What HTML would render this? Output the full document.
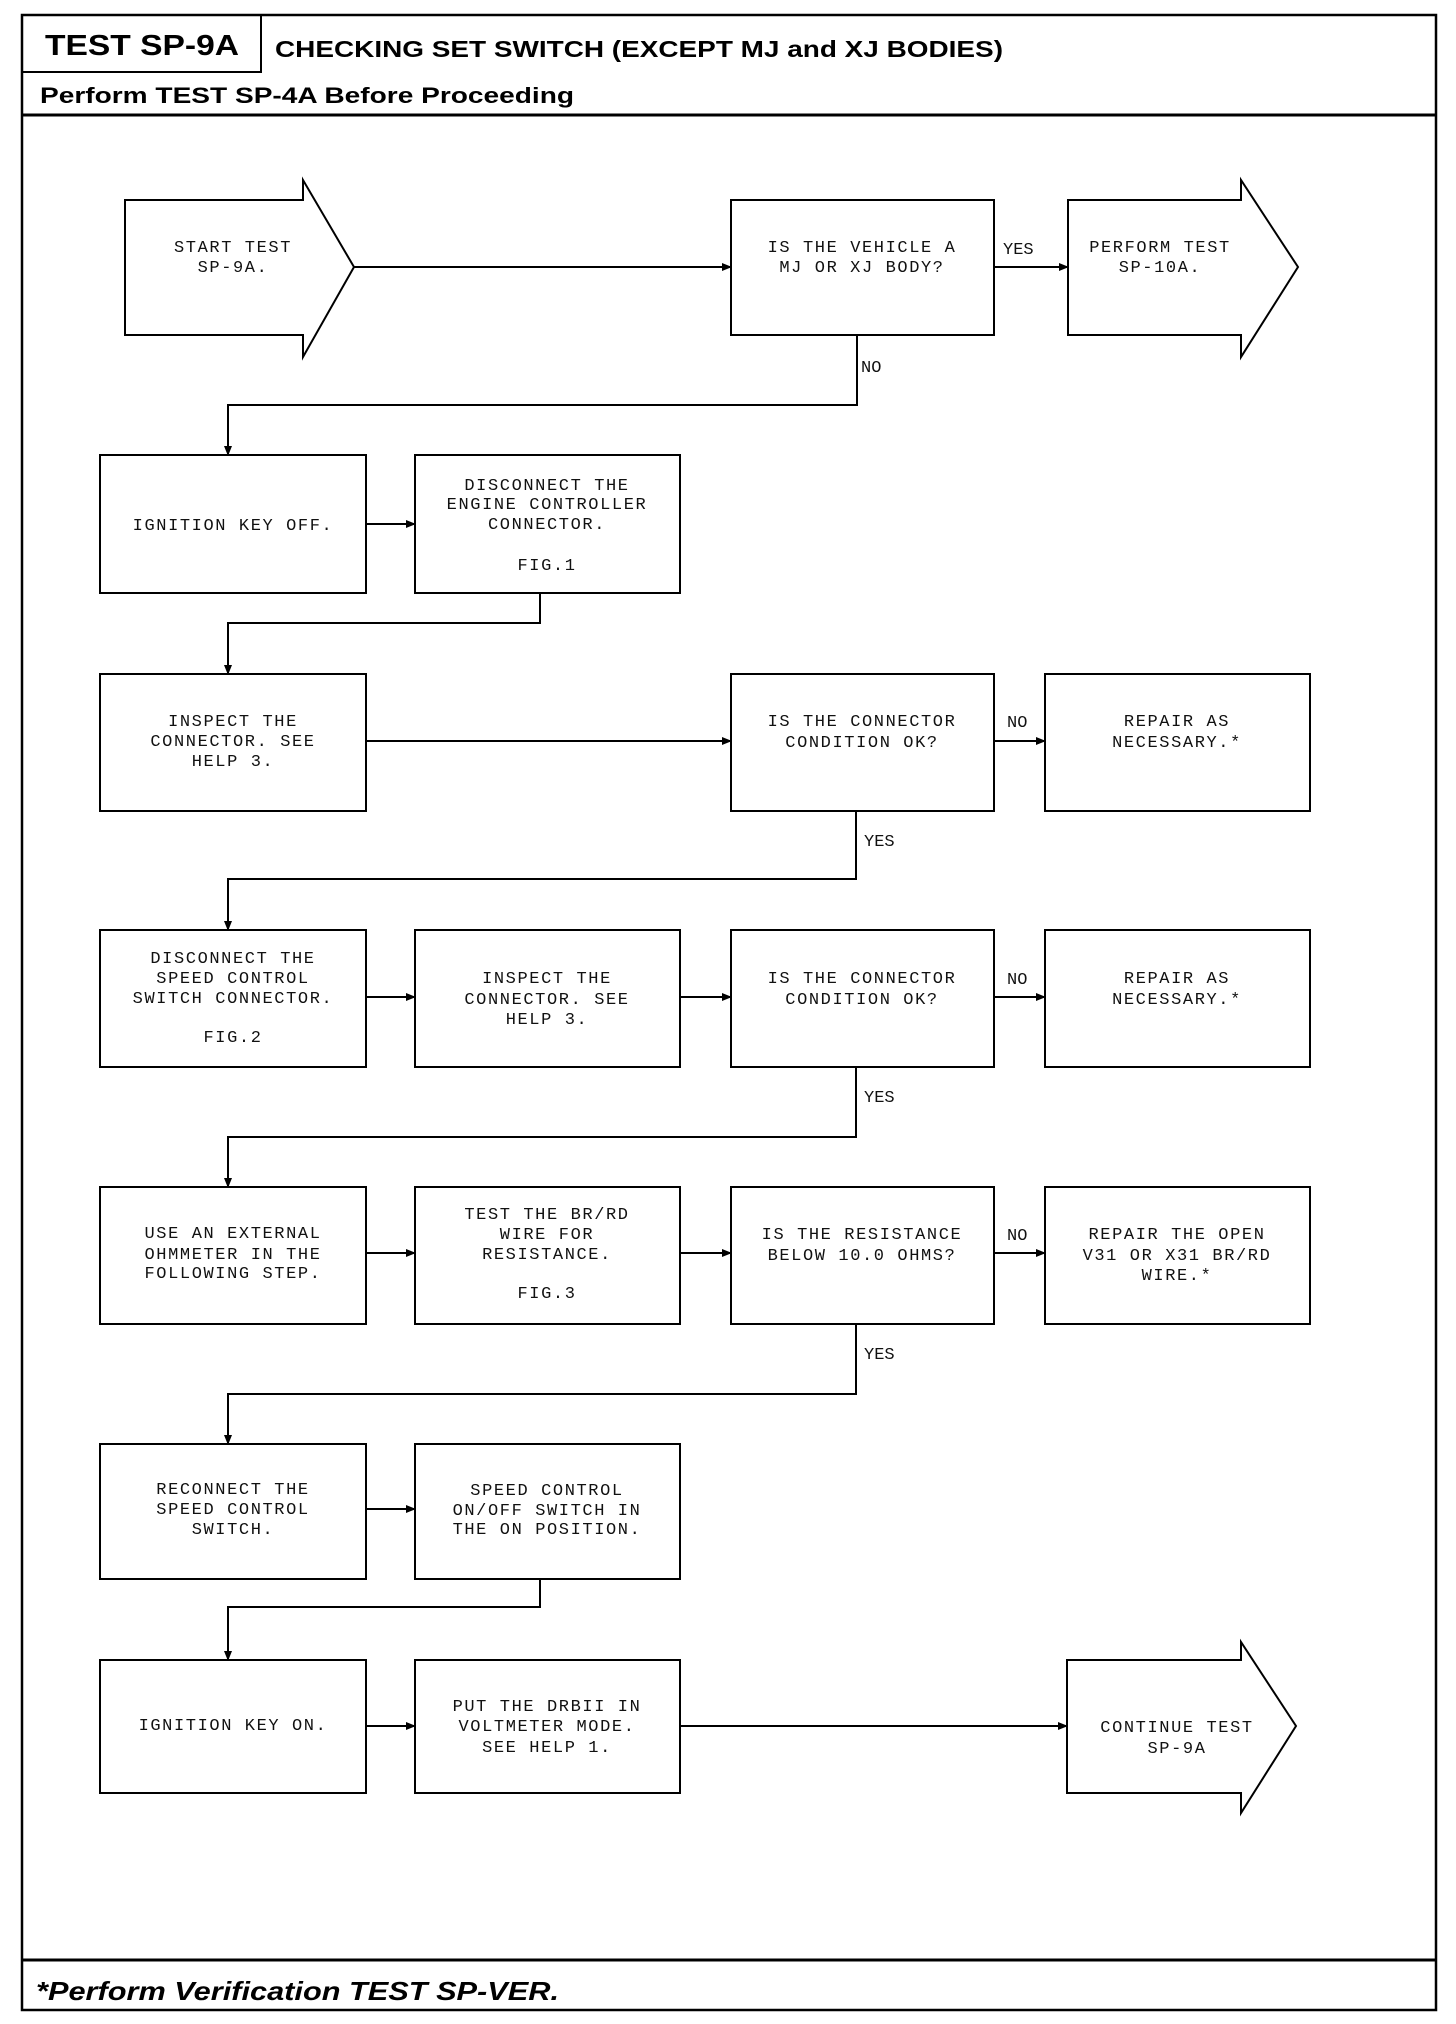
<!DOCTYPE html>
<html><head><meta charset="utf-8"><style>
html,body{margin:0;padding:0;background:#fff;}
svg{display:block;}
.t{font-family:"Liberation Mono",monospace;font-size:17px;letter-spacing:1.6px;fill:#111;text-anchor:middle;}
.l{font-family:"Liberation Mono",monospace;font-size:17px;fill:#111;}
.h{font-family:"Liberation Sans",sans-serif;font-weight:bold;fill:#000;}
</style></head><body>
<svg width="1456" height="2024" viewBox="0 0 1456 2024" xmlns="http://www.w3.org/2000/svg">
<defs><marker id="a" markerWidth="10" markerHeight="8" refX="9" refY="4" orient="auto" markerUnits="userSpaceOnUse"><path d="M0,0 L10,4 L0,8z" fill="#000"/></marker></defs>
<g fill="none" stroke="#000">
<rect x="22" y="15" width="1414" height="1995" stroke-width="2.5"/>
<line x1="22" y1="115" x2="1436" y2="115" stroke-width="3"/>
<line x1="22" y1="1960" x2="1436" y2="1960" stroke-width="3"/>
<polyline points="22,72 261,72 261,15" stroke-width="2"/>
</g>
<text class="h" x="45" y="55" font-size="29" textLength="194" lengthAdjust="spacingAndGlyphs">TEST SP-9A</text>
<text class="h" x="275" y="57" font-size="23" textLength="728" lengthAdjust="spacingAndGlyphs">CHECKING SET SWITCH (EXCEPT MJ and XJ BODIES)</text>
<text class="h" x="40" y="103" font-size="22" textLength="534" lengthAdjust="spacingAndGlyphs">Perform TEST SP-4A Before Proceeding</text>
<text class="h" x="36" y="2000" font-size="26" font-style="italic" textLength="523" lengthAdjust="spacingAndGlyphs">*Perform Verification TEST SP-VER.</text>

<g fill="none" stroke="#000" stroke-width="2">
<polygon points="125,200 303,200 303,180 354,267 303,357 303,335 125,335"/>
<polygon points="1068,200 1241,200 1241,180 1298,267 1241,357 1241,335 1068,335"/>
<polygon points="1067,1660 1241,1660 1241,1642 1296,1726 1241,1813 1241,1793 1067,1793"/>
<rect x="731" y="200" width="263" height="135"/>
<rect x="100" y="455" width="266" height="138"/>
<rect x="415" y="455" width="265" height="138"/>
<rect x="100" y="674" width="266" height="137"/>
<rect x="731" y="674" width="263" height="137"/>
<rect x="1045" y="674" width="265" height="137"/>
<rect x="100" y="930" width="266" height="137"/>
<rect x="415" y="930" width="265" height="137"/>
<rect x="731" y="930" width="263" height="137"/>
<rect x="1045" y="930" width="265" height="137"/>
<rect x="100" y="1187" width="266" height="137"/>
<rect x="415" y="1187" width="265" height="137"/>
<rect x="731" y="1187" width="263" height="137"/>
<rect x="1045" y="1187" width="265" height="137"/>
<rect x="100" y="1444" width="266" height="135"/>
<rect x="415" y="1444" width="265" height="135"/>
<rect x="100" y="1660" width="266" height="133"/>
<rect x="415" y="1660" width="265" height="133"/>
</g>
<g fill="none" stroke="#000" stroke-width="2" marker-end="url(#a)">
<line x1="354" y1="267" x2="731" y2="267"/>
<line x1="994" y1="267" x2="1068" y2="267"/>
<polyline points="857,335 857,405 228,405 228,455"/>
<line x1="366" y1="524" x2="415" y2="524"/>
<polyline points="540,593 540,623 228,623 228,674"/>
<line x1="366" y1="741" x2="731" y2="741"/>
<line x1="994" y1="741" x2="1045" y2="741"/>
<polyline points="856,811 856,879 228,879 228,930"/>
<line x1="366" y1="997" x2="415" y2="997"/>
<line x1="680" y1="997" x2="731" y2="997"/>
<line x1="994" y1="997" x2="1045" y2="997"/>
<polyline points="856,1067 856,1137 228,1137 228,1187"/>
<line x1="366" y1="1253" x2="415" y2="1253"/>
<line x1="680" y1="1253" x2="731" y2="1253"/>
<line x1="994" y1="1253" x2="1045" y2="1253"/>
<polyline points="856,1324 856,1394 228,1394 228,1444"/>
<line x1="366" y1="1509" x2="415" y2="1509"/>
<polyline points="540,1579 540,1607 228,1607 228,1660"/>
<line x1="366" y1="1726" x2="415" y2="1726"/>
<line x1="680" y1="1726" x2="1067" y2="1726"/>
</g>
<text class="l" x="1003" y="254">YES</text>
<text class="l" x="861" y="372">NO</text>
<text class="l" x="1007" y="727">NO</text>
<text class="l" x="864" y="846">YES</text>
<text class="l" x="1007" y="984">NO</text>
<text class="l" x="864" y="1102">YES</text>
<text class="l" x="1007" y="1240">NO</text>
<text class="l" x="864" y="1359">YES</text>

<g class="t">
<text x="233" y="252">START TEST</text><text x="233" y="272">SP-9A.</text>
<text x="862" y="252">IS THE VEHICLE A</text><text x="862" y="272">MJ OR XJ BODY?</text>
<text x="1160" y="252">PERFORM TEST</text><text x="1160" y="272">SP-10A.</text>

<text x="233" y="530">IGNITION KEY OFF.</text>
<text x="547" y="490">DISCONNECT THE</text><text x="547" y="509">ENGINE CONTROLLER</text><text x="547" y="529">CONNECTOR.</text><text x="547" y="570">FIG.1</text>

<text x="233" y="726">INSPECT THE</text><text x="233" y="746">CONNECTOR. SEE</text><text x="233" y="766">HELP 3.</text>
<text x="862" y="726">IS THE CONNECTOR</text><text x="862" y="747">CONDITION OK?</text>
<text x="1177" y="726">REPAIR AS</text><text x="1177" y="747">NECESSARY.*</text>

<text x="233" y="963">DISCONNECT THE</text><text x="233" y="983">SPEED CONTROL</text><text x="233" y="1003">SWITCH CONNECTOR.</text><text x="233" y="1042">FIG.2</text>
<text x="547" y="983">INSPECT THE</text><text x="547" y="1004">CONNECTOR. SEE</text><text x="547" y="1024">HELP 3.</text>
<text x="862" y="983">IS THE CONNECTOR</text><text x="862" y="1004">CONDITION OK?</text>
<text x="1177" y="983">REPAIR AS</text><text x="1177" y="1004">NECESSARY.*</text>

<text x="233" y="1238">USE AN EXTERNAL</text><text x="233" y="1259">OHMMETER IN THE</text><text x="233" y="1278">FOLLOWING STEP.</text>
<text x="547" y="1219">TEST THE BR/RD</text><text x="547" y="1239">WIRE FOR</text><text x="547" y="1259">RESISTANCE.</text><text x="547" y="1298">FIG.3</text>
<text x="862" y="1239">IS THE RESISTANCE</text><text x="862" y="1260">BELOW 10.0 OHMS?</text>
<text x="1177" y="1239">REPAIR THE OPEN</text><text x="1177" y="1260">V31 OR X31 BR/RD</text><text x="1177" y="1280">WIRE.*</text>

<text x="233" y="1494">RECONNECT THE</text><text x="233" y="1514">SPEED CONTROL</text><text x="233" y="1534">SWITCH.</text>
<text x="547" y="1495">SPEED CONTROL</text><text x="547" y="1515">ON/OFF SWITCH IN</text><text x="547" y="1534">THE ON POSITION.</text>

<text x="233" y="1730">IGNITION KEY ON.</text>
<text x="547" y="1711">PUT THE DRBII IN</text><text x="547" y="1731">VOLTMETER MODE.</text><text x="547" y="1752">SEE HELP 1.</text>
<text x="1177" y="1732">CONTINUE TEST</text><text x="1177" y="1753">SP-9A</text>
</g>
</svg>
</body></html>
